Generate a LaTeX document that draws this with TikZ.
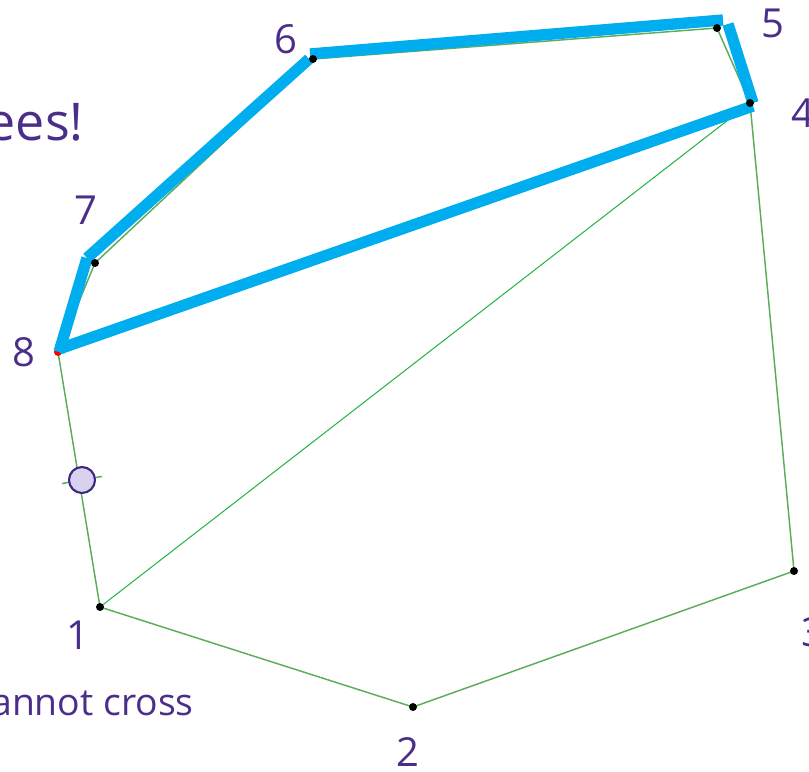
\documentclass[tikz,border=0pt]{standalone}
\usepackage{fontspec}
\setmainfont{Open Sans}
\usetikzlibrary{calc}

\definecolor{txtpurple}{RGB}{75,46,138}
\definecolor{edgegreen}{RGB}{92,172,92}
\definecolor{diaggreen}{RGB}{34,178,64}
\definecolor{routeblue}{RGB}{0,174,239}
\definecolor{handlefill}{RGB}{217,210,238}
\definecolor{handledraw}{RGB}{61,42,128}

\begin{document}
\begin{tikzpicture}[
  x=0.75pt, y=-0.75pt,
  edge/.style={draw=edgegreen, line width=1.1pt},
  diag/.style={draw=diaggreen, line width=0.75pt},
  route/.style={draw=routeblue, line width=8.5pt, line cap=butt},
  vtx/.style={circle, fill=black, inner sep=0pt, minimum size=6pt},
  num/.style={text=txtpurple, font=\fontsize{30}{36}\selectfont, inner sep=0pt},
  note/.style={text=txtpurple, inner sep=0pt},
  handle/.style={circle, draw=handledraw, fill=handlefill, line width=1.6pt,
                 inner sep=0pt, minimum size=19.5pt},
]
\useasboundingbox (0,0) rectangle (809,771);
% polygon vertices
\coordinate (p1) at (100,607);
\coordinate (p2) at (413,707);
\coordinate (p3) at (794,571);
\coordinate (p4) at (750,103);
\coordinate (p5) at (717,28);
\coordinate (p6) at (313,59);
\coordinate (p7) at (95,263);
\coordinate (p8) at (58,352);
% text
\node[note, anchor=base east, font=\fontsize{39}{46}\selectfont] (head) at (84,140) {ees!};
\node[note, anchor=base east, font=\fontsize{28}{34}\selectfont] (foot) at (194,715) {annot cross};
% outline and diagonal
\draw[edge] (p1) -- (p2) -- (p3) -- (p4) -- (p5) -- (p6) -- (p7) -- (p8) -- (p1);
\draw[diag] (p1) -- (p4);
% drag handle on edge 8-1
\coordinate (hc) at (82,480);
\draw[edge] ([shift={(-20,3.6)}]hc) -- ([shift={(20,-3.6)}]hc);
\node[handle] (hd) at (hc) {};
\node[circle, fill=red, inner sep=0pt, minimum size=6pt] (d8) at (p8) {};
% highlighted route
\draw[route] ([shift={(1,0)}]p8) -- ([shift={(-8,-5)}]p7);
\draw[route] ([shift={(-8,-5)}]p7) -- ([shift={(-4,0)}]p6);
\draw[route] ([shift={(-3,-5)}]p6) -- ([shift={(6,-8)}]p5);
\draw[route] ([shift={(11,-4)}]p5) -- ([shift={(3,0)}]p4);
\draw[route] ([shift={(3,3)}]p4) -- ([shift={(1,-3)}]p8);
% vertex dots
\node[vtx] (d1) at (p1) {};
\node[vtx] (d2) at (p2) {};
\node[vtx] (d3) at (p3) {};
\node[vtx] (d4) at (p4) {};
\node[vtx] (d5) at (p5) {};
\node[vtx] (d6) at (p6) {};
\node[vtx] (d7) at (p7) {};
% vertex labels
\node[num] (l1) at (78,635) {1};
\node[num] (l2) at (408,752) {2};
\node[num] (l3) at (813,632) {3};
\node[num] (l4) at (803,113) {4};
\node[num] (l5) at (773,23) {5};
\node[num] (l6) at (286,39) {6};
\node[num] (l7) at (86,210) {7};
\node[num] (l8) at (24,352) {8};
\end{tikzpicture}
\end{document}
